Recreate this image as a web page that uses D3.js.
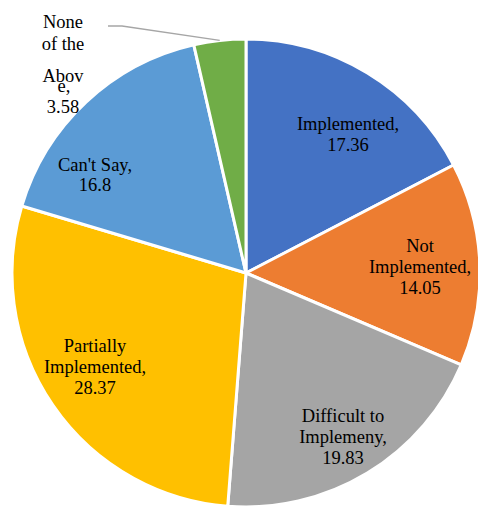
<!DOCTYPE html>
<html>
<head>
<meta charset="utf-8">
<script src="https://cdn.jsdelivr.net/npm/d3@7"></script>
<style>
  html, body { margin: 0; padding: 0; background: #ffffff; }
  svg { display: block; }
</style>
</head>
<body>
<svg id="chart" width="478" height="507"></svg>
<script>
// Survey responses (percent of respondents)
const categories = [
  "Implemented",
  "Not Implemented",
  "Difficult to Implemeny",
  "Partially Implemented",
  "Can't Say",
  "None of the Above"
];
const values = [17.36, 14.05, 19.83, 28.37, 16.8, 3.58];
const colors = ["#4472C4", "#ED7D31", "#A5A5A5", "#FFC000", "#5B9BD5", "#70AD47"];

// How each data label is broken into lines, and where its first baseline sits
const labelLines = [
  [categories[0] + ",", String(values[0])],
  ["Not", "Implemented,", String(values[1])],
  ["Difficult to", "Implemeny,", String(values[2])],
  ["Partially", "Implemented,", String(values[3])],
  [categories[4] + ",", String(values[4])],
  ["None", "of the", "Abov", "e,", String(values[5])]
];
const labelAnchor = [
  { x: 348, y: 130, dy: [0, 21] },
  { x: 420, y: 252, dy: [0, 21, 21] },
  { x: 343, y: 422, dy: [0, 21, 21] },
  { x: 95,  y: 352, dy: [0, 21, 21] },
  { x: 95,  y: 171, dy: [0, 20] },
  { x: 63,  y: 28,  dy: [0, 22, 32, 10, 21], dx: [0, 0, 0, 1, 0] }
];

const svg = d3.select("#chart");
const cx = 246, cy = 273, radius = 234;

const pie = d3.pie().sort(null).value(d => d)(values);
const arc = d3.arc().innerRadius(0).outerRadius(radius);

const g = svg.append("g").attr("transform", `translate(${cx},${cy})`);

g.selectAll("path.slice")
  .data(pie)
  .join("path")
  .attr("class", "slice")
  .attr("d", arc)
  .attr("fill", (d, i) => colors[i])
  .attr("stroke", "#ffffff")
  .attr("stroke-width", 3)
  .attr("stroke-linejoin", "round");

// Leader line from the small slice to its label
const small = pie[5];
const midA = (small.startAngle + small.endAngle) / 2;
const edge = [Math.sin(midA) * radius, -Math.cos(midA) * radius];
svg.append("path")
  .attr("d", d3.line()([[108, 26], [122, 26], [cx + edge[0], cy + edge[1]]]))
  .attr("fill", "none")
  .attr("stroke", "#a6a6a6")
  .attr("stroke-width", 1.3);

// Data labels
labelLines.forEach((lines, i) => {
  const a = labelAnchor[i];
  const t = svg.append("text")
    .attr("x", a.x)
    .attr("y", a.y)
    .attr("text-anchor", "middle")
    .style("font-family", "'Liberation Serif'")
    .style("font-size", "18.5px")
    .style("fill", "#000000");
  lines.forEach((line, j) => {
    t.append("tspan")
      .attr("x", a.x + (a.dx ? a.dx[j] : 0))
      .attr("dy", a.dy[j])
      .style("font-family", "'Liberation Serif'")
      .text(line);
  });
});
</script>
</body>
</html>
